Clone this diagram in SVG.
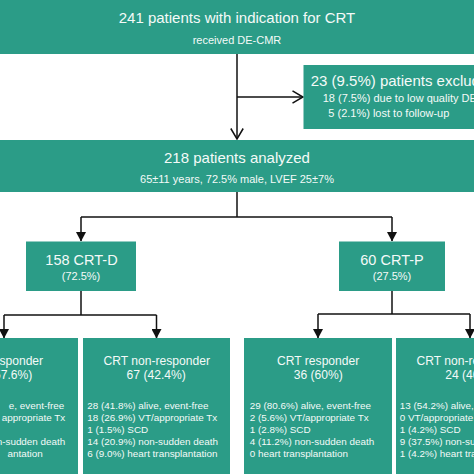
<svg xmlns="http://www.w3.org/2000/svg" width="474" height="474" viewBox="0 0 474 474">
  <style>
    .box { fill: #2b9c87; }
    text { font-family: "Liberation Sans", Arial, Helvetica, sans-serif; fill: #f4faf8; }
    .t15 { font-size: 15px; }
    .t14 { font-size: 14.5px; }
    .t12 { font-size: 12.1px; }
    .t11 { font-size: 11px; }
    .t10 { font-size: 9.9px; }
    .mid { text-anchor: middle; }
    .end { text-anchor: end; }
    .line { stroke: #111; stroke-width: 1.5; fill: none; }
  </style>
  <defs>
    <marker id="open" viewBox="0 0 12 14" refX="11" refY="7" markerWidth="12" markerHeight="14" markerUnits="userSpaceOnUse" orient="auto">
      <path d="M0.5,0.8 L11,7 L0.5,13.2" fill="none" stroke="#111" stroke-width="1.5"/>
    </marker>
    <marker id="solid" viewBox="0 0 10 10" refX="9" refY="5" markerWidth="10" markerHeight="10" markerUnits="userSpaceOnUse" orient="auto">
      <path d="M0,0 L9.5,5 L0,10 Z" fill="#111"/>
    </marker>
  </defs>
  <rect width="474" height="474" fill="#ffffff"/>

  <g id="connectors">
    <line class="line" x1="237" y1="54" x2="237" y2="139" marker-end="url(#open)"/>
    <line class="line" x1="237" y1="97" x2="303" y2="97" marker-end="url(#open)"/>
    <polyline class="line" points="237,192 237,217"/>
    <polyline class="line" points="81,217 392,217"/>
    <line class="line" x1="81" y1="217" x2="81" y2="241" marker-end="url(#solid)"/>
    <line class="line" x1="392" y1="217" x2="392" y2="241" marker-end="url(#solid)"/>
    <polyline class="line" points="81,291 81,315"/>
    <polyline class="line" points="4,315 156.5,315"/>
    <line class="line" x1="4" y1="315" x2="4" y2="338" marker-end="url(#solid)"/>
    <line class="line" x1="156.5" y1="315" x2="156.5" y2="338" marker-end="url(#solid)"/>
    <polyline class="line" points="392,291 392,314"/>
    <polyline class="line" points="318,314 470,314"/>
    <line class="line" x1="318" y1="314" x2="318" y2="338" marker-end="url(#solid)"/>
    <line class="line" x1="470" y1="314" x2="470" y2="338" marker-end="url(#solid)"/>
  </g>

  <g id="node-indication">
    <rect class="box" x="0" y="0" width="474" height="54"/>
    <text class="t15 mid" x="237" y="23">241 patients with indication for CRT</text>
    <text class="t11 mid" x="237" y="44">received DE-CMR</text>
  </g>

  <g id="node-excluded">
    <rect class="box" x="303.5" y="65" width="180" height="64"/>
    <text class="t15" x="310.7" y="86">23 (9.5%) patients excluded</text>
    <text class="t11" x="322.7" y="101.5">18 (7.5%) due to low quality DE-CMR</text>
    <text class="t11" x="328.3" y="117">5 (2.1%) lost to follow-up</text>
  </g>

  <g id="node-analyzed">
    <rect class="box" x="0" y="140" width="474" height="52"/>
    <text class="t15 mid" x="237" y="162.5">218 patients analyzed</text>
    <text class="t11 mid" x="237" y="183">65±11 years, 72.5% male, LVEF 25±7%</text>
  </g>

  <g id="node-crtd">
    <rect class="box" x="26" y="241.5" width="110" height="49.5"/>
    <text class="t14 mid" x="81.5" y="265">158 CRT-D</text>
    <text class="t11 mid" x="81" y="279.5">(72.5%)</text>
  </g>

  <g id="node-crtp">
    <rect class="box" x="339" y="241.5" width="106" height="49.5"/>
    <text class="t14 mid" x="392" y="265">60 CRT-P</text>
    <text class="t11 mid" x="392" y="279.5">(27.5%)</text>
  </g>

  <g id="node-crtd-responder">
    <rect class="box" x="-72" y="338" width="150" height="140"/>
    <text class="t12 mid" x="2" y="364.5">CRT responder</text>
    <text class="t12 mid" x="2.7" y="378.5">91 (57.6%)</text>
    <text class="t10 end" x="64.3" y="409.3">e, event-free</text>
    <text class="t10 end" x="65.3" y="421.3">appropriate Tx</text>
    <text class="t10 end" x="65.3" y="445.3">n-sudden death</text>
    <text class="t10 end" x="42.7" y="457.3">antation</text>
  </g>

  <g id="node-crtd-nonresponder">
    <rect class="box" x="83" y="338" width="147" height="140"/>
    <text class="t12 mid" x="156.7" y="364.5">CRT non-responder</text>
    <text class="t12 mid" x="156.2" y="378.5">67 (42.4%)</text>
    <text class="t10" x="87.3" y="409.3">28 (41.8%) alive, event-free</text>
    <text class="t10" x="87.3" y="421.3">18 (26.9%) VT/appropriate Tx</text>
    <text class="t10" x="87.3" y="433.3">1 (1.5%) SCD</text>
    <text class="t10" x="87.3" y="445.3">14 (20.9%) non-sudden death</text>
    <text class="t10" x="87.3" y="457.3">6 (9.0%) heart transplantation</text>
  </g>

  <g id="node-crtp-responder">
    <rect class="box" x="244" y="338" width="148" height="140"/>
    <text class="t12 mid" x="318.2" y="364.5">CRT responder</text>
    <text class="t12 mid" x="318.2" y="378.5">36 (60%)</text>
    <text class="t10" x="249.7" y="409.3">29 (80.6%) alive, event-free</text>
    <text class="t10" x="249.7" y="421.3">2 (5.6%) VT/appropriate Tx</text>
    <text class="t10" x="249.7" y="433.3">1 (2.8%) SCD</text>
    <text class="t10" x="249.7" y="445.3">4 (11.2%) non-sudden death</text>
    <text class="t10" x="249.7" y="457.3">0 heart transplantation</text>
  </g>

  <g id="node-crtp-nonresponder">
    <rect class="box" x="396" y="338" width="150" height="140"/>
    <text class="t12 mid" x="469.7" y="364.5">CRT non-responder</text>
    <text class="t12 mid" x="469.7" y="378.5">24 (40%)</text>
    <text class="t10" x="399.7" y="409.3">13 (54.2%) alive, event-free</text>
    <text class="t10" x="399.7" y="421.3">0 VT/appropriate Tx</text>
    <text class="t10" x="399.7" y="433.3">1 (4.2%) SCD</text>
    <text class="t10" x="399.7" y="445.3">9 (37.5%) non-sudden death</text>
    <text class="t10" x="399.7" y="457.3">1 (4.2%) heart transplantation</text>
  </g>
</svg>
